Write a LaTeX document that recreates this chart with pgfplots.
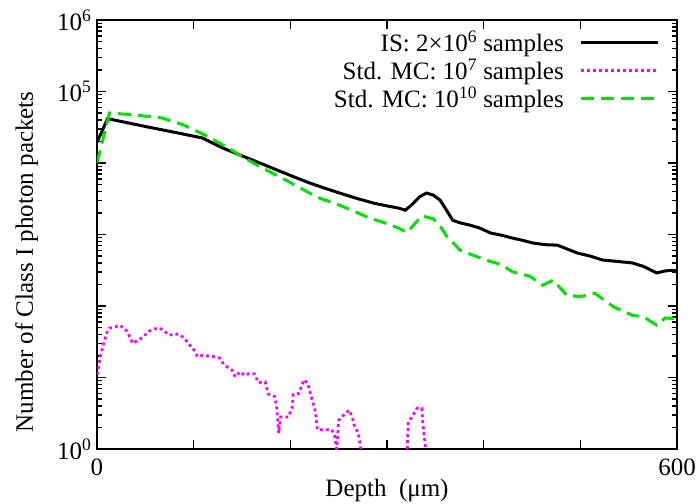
\documentclass[border=0pt]{standalone}
\usepackage{fontspec}
\setmainfont{Liberation Serif}
\usepackage{pgfplots}
\pgfplotsset{compat=1.18}
\definecolor{mcmag}{RGB}{255,0,255}
\definecolor{mcgreen}{RGB}{0,225,0}
\begin{document}
\begin{tikzpicture}
\begin{axis}[
  scale only axis, width=580pt, height=429pt,
  ymode=log, ymin=1, ymax=1e6, xmin=0, xmax=600,
  font=\fontsize{25}{28}\selectfont,
  axis line style={line width=2.5pt},
  tick style={line width=1.4pt, black},
  major tick length=9pt, minor tick length=5pt,
  xtick={0,100,200,300,400,500,600},
  xticklabels={0,,,,,,600},
  ytick={1,10,100,1000,10000,100000,1000000},
  yticklabels={10\textsuperscript{0},,,,,10\textsuperscript{5},10\textsuperscript{6}},
  minor ytick={2,3,4,5,6,7,8,9,20,30,40,50,60,70,80,90,200,300,400,500,600,700,800,900,2000,3000,4000,5000,6000,7000,8000,9000,20000,30000,40000,50000,60000,70000,80000,90000,200000,300000,400000,500000,600000,700000,800000,900000},
  xticklabel style={yshift=-6pt},
  yticklabel style={xshift=-2pt},
  ylabel={Number of Class I photon packets},
  ylabel style={at={(axis description cs:-0.121,0.436)}, anchor=center},
  xlabel={Depth\ \ (μm)},
  xlabel style={at={(axis description cs:0.5,0)}, yshift=-41pt, anchor=center},
  unbounded coords=jump,
  legend plot pos=right,
  legend cell align=right,
  legend image code/.code={\draw[#1] (0pt,0pt) -- (77pt,0pt);},
  legend style={draw=none, fill=none, at={(1,1)}, anchor=north east,
    xshift=-14pt, yshift=-7pt, row sep=2pt, column sep=14pt,
    font=\fontsize{25}{27}\selectfont},
]
\addplot[black, line width=3pt] coordinates {
(0,19500)(11,41700)(50,32400)(80,26900)(109,22400)(130,16200)(150,12600)(170,9800)
(190,7600)(205,6300)(220,5250)(235,4470)(251,3800)(270,3160)(286,2750)(300,2510)
(312,2340)(319,2190)(326,2630)(334,3390)(341,3800)(348,3550)(355,3020)(362,2140)
(368,1580)(376,1450)(386,1350)(396,1230)(407,1050)(418,980)(430,890)(440,830)
(451,760)(464,720)(476,710)(486,630)(497,550)(510,500)(523,440)(538,420)
(554,400)(566,355)(579,290)(588,310)(596,316)(600,310)
};
\addlegendentry{IS: 2×10\textsuperscript{6} samples}
\addplot[mcmag, line width=2.8pt, dash pattern=on 2.8pt off 3.2pt] coordinates {
(0,11)(1,12)(3,18.6)(6,27)(10,42)(13,49)(19,51)(23,54)(29,48)(32,42)(37,30)
(42,33)(48,37)(53,44)(60,48)(65,49)(70,44)(75,39)(81,41)(86,39)(91,35)(94,30)
(99,26)(104,19.5)(109,20.4)(115,20)(122,19.5)(127,18.6)(132,14.8)(140,12.6)
(143,10.2)(148,12)(153,10.7)(158,11.5)(163,11.2)(167,8.5)(174,8.7)(177,5.9)
(184,5.4)(186,3.7)(188,1.66)(190,2.8)(198,2.8)(202,3.9)(203,5.8)(209,6.0)
(214,9.3)(218,8.3)(221,5.8)(226,3.3)(228,1.86)(234,1.86)(243,1.86)(246,1.5)
(248,1)(250,2.5)(253,2.8)(261,3.5)(264,2.8)(267,1.95)(270,1.74)(273,1)
(280,nan)
(321,1)(322,2.4)(326,2.8)(331,3.7)(336,3.7)(337,2.3)(340,1)
};
\addlegendentry{Std. MC: 10\textsuperscript{7} samples}
\addplot[mcgreen, line width=3pt, dash pattern=on 13pt off 7pt] coordinates {
(0,10000)(13,50100)(40,46800)(67,42700)(90,33900)(112,24500)(136,16200)(150,12300)
(171,8500)(190,6300)(205,4900)(228,3310)(251,2570)(265,2140)(282,1700)(296,1480)
(310,1260)(321,1070)(328,1380)(336,1820)(348,1660)(355,1320)(362,930)(376,600)
(393,490)(407,420)(418,380)(430,300)(448,260)(461,195)(472,230)(486,141)
(500,135)(515,151)(534,98)(554,74)(565,71)(579,54)(588,68)(600,66)
};
\addlegendentry{Std. MC: 10\textsuperscript{10} samples}
\end{axis}
\pgfresetboundingbox
\path (current axis.south west) ++(-97pt,-54pt) rectangle ++(698pt,503pt);
\end{tikzpicture}
\end{document}
